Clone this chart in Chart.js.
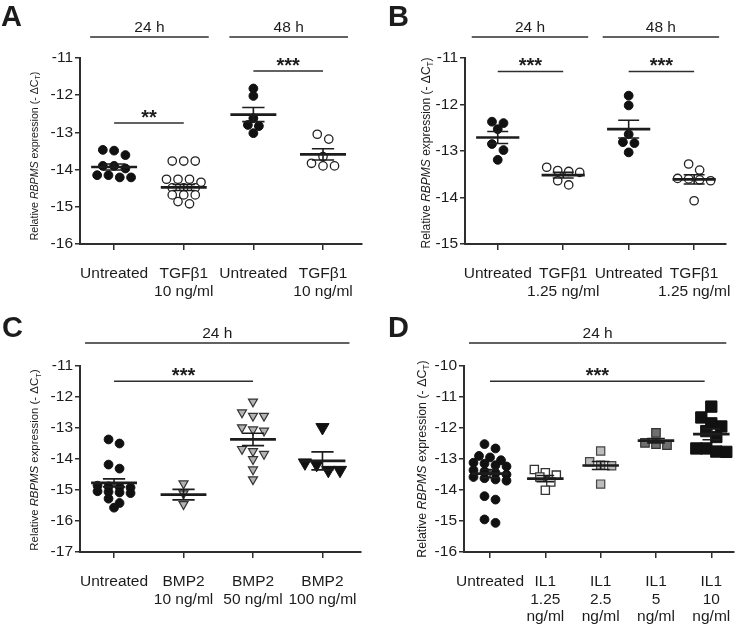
<!DOCTYPE html>
<html>
<head>
<meta charset="utf-8">
<script src="https://cdn.jsdelivr.net/npm/chart.js@4.4.1/dist/chart.umd.min.js"></script>
<style>
  html, body { margin: 0; padding: 0; background: #fff; }
  #fig { position: relative; width: 746px; height: 625px; overflow: hidden; }
  #fig canvas { position: absolute; }
</style>
</head>
<body>
<div id="fig">
  <canvas id="pA" width="373" height="310" style="left:0;top:0"></canvas>
  <canvas id="pB" width="373" height="310" style="left:373px;top:0"></canvas>
  <canvas id="pC" width="373" height="315" style="left:0;top:310px"></canvas>
  <canvas id="pD" width="373" height="315" style="left:373px;top:310px"></canvas>
</div>
<script>
// ---- data (relative RBPMS expression, -dCt) ----

// A: TGFb1 10 ng/ml, 24 h and 48 h
const aLabels = [['Untreated'], ['TGFβ1', '10 ng/ml'], ['Untreated'], ['TGFβ1', '10 ng/ml']];
const aUntreated24 = [-13.47, -13.49, -13.61, -13.90, -13.90, -13.97, -14.15, -14.15, -14.21, -14.21];
const aTgf24 = [-13.77, -13.77, -13.77, -14.26, -14.26, -14.26, -14.34, -14.49, -14.49, -14.49, -14.68, -14.68, -14.68, -14.86, -14.92];
const aUntreated48 = [-11.82, -12.02, -12.62, -12.80, -12.83, -13.02];
const aTgf48 = [-13.05, -13.18, -13.65, -13.83, -13.90, -13.90];
const aMeans = [-13.93, -14.48, -12.52, -13.59];
const aSems = [0.08, 0.08, 0.19, 0.15];

// B: TGFb1 1.25 ng/ml, 24 h and 48 h
const bLabels = [['Untreated'], ['TGFβ1', '1.25 ng/ml'], ['Untreated'], ['TGFβ1', '1.25 ng/ml']];
const bUntreated24 = [-12.37, -12.40, -12.53, -12.85, -12.98, -13.19];
const bTgf24 = [-13.35, -13.42, -13.44, -13.46, -13.64, -13.73];
const bUntreated48 = [-11.81, -12.02, -12.64, -12.81, -12.83, -13.03];
const bTgf48 = [-13.28, -13.41, -13.59, -13.60, -13.62, -13.64, -14.07];
const bMeans = [-12.71, -13.52, -12.53, -13.61];
const bSems = [0.13, 0.06, 0.19, 0.10];

// C: BMP2, 24 h
const cLabels = [['Untreated'], ['BMP2', '10 ng/ml'], ['BMP2', '50 ng/ml'], ['BMP2', '100 ng/ml']];
const cUntreated = [-13.37, -13.50, -14.18, -14.31, -14.86, -14.88, -14.90, -14.92, -15.04, -15.06, -15.08, -15.10, -15.28, -15.42, -15.57];
const cBmp10 = [-14.79, -15.11, -15.46];
const cBmp50 = [-12.15, -12.50, -12.61, -12.61, -12.98, -13.05, -13.09, -13.68, -13.75, -13.84, -14.01, -14.34, -14.66];
const cBmp100 = [-12.98, -14.12, -14.17, -14.36, -14.36];
const cMeans = [-14.77, -15.15, -13.37, -14.06];
const cSems = [0.13, 0.17, 0.20, 0.29];

// D: IL1, 24 h
const dLabels = [['Untreated'], ['IL1', '1.25', 'ng/ml'], ['IL1', '2.5', 'ng/ml'], ['IL1', '5', 'ng/ml'], ['IL1', '10', 'ng/ml']];
const dUntreated = [-12.52, -12.66, -12.90, -12.95, -13.04, -13.12, -13.15, -13.20, -13.24, -13.36, -13.40,
                    -13.45, -13.50, -13.58, -13.62, -13.66, -13.70, -14.20, -14.31, -14.95, -15.06];
const dIl1_125 = [-13.34, -13.44, -13.52, -13.58, -13.74, -14.01];
const dIl1_25 = [-12.74, -13.09, -13.20, -13.22, -13.81];
const dIl1_5 = [-12.16, -12.48, -12.52, -12.55];
const dIl1_10 = [-11.31, -11.66, -11.85, -11.95, -12.10, -12.29, -12.66, -12.66, -12.76, -12.77];
const dMeans = [-13.47, -13.63, -13.21, -12.41, -12.20];
const dSems = [0.13, 0.10, 0.13, 0.07, 0.18];

// ---- styling ----
const FONT = '"Liberation Sans", Arial, Helvetica, sans-serif';
const INK = '#1c1c1c';
const AXIS = '#2e2e2e';

const MARK = {
  dot:     { pointStyle: 'circle', radius: 4.4, bg: '#111', border: '#111', bw: 1 },
  ring:    { pointStyle: 'circle', radius: 4.2, bg: '#fff', border: '#222', bw: 1.3 },
  triGrey: { pointStyle: 'triangle', rotation: 180, radius: 5.2, bg: '#b3b3b3', border: '#333', bw: 1.2 },
  triBlk:  { pointStyle: 'triangle', rotation: 180, radius: 7.6, bg: '#111', border: '#111', bw: 1 },
  sqOpen:  { pointStyle: 'rect', radius: 5.8, bg: '#fff', border: '#333', bw: 1.3 },
  sqLight: { pointStyle: 'rect', radius: 5.8, bg: '#bcbcbc', border: '#444', bw: 1.2 },
  sqDark:  { pointStyle: 'rect', radius: 6.0, bg: '#6f6f6f', border: '#333', bw: 1.2 },
  sqBlk:   { pointStyle: 'rect', radius: 8.0, bg: '#111', border: '#111', bw: 1 },
};

// column scatter: bin points into rows by pixel height, centre each row on its category
function swarm(chart, groups) {
  const xs = chart.scales.x, ys = chart.scales.y;
  const unit = xs.getPixelForValue(1) - xs.getPixelForValue(0);
  chart.data.datasets.forEach((ds, gi) => {
    const { values, gap, bin } = groups[gi];
    const pts = values.map(v => ({ v, py: ys.getPixelForValue(v) })).sort((a, b) => a.py - b.py);
    const rows = [];
    pts.forEach(p => {
      const row = rows[rows.length - 1];
      if (row && p.py - row[0].py < bin) row.push(p); else rows.push([p]);
    });
    ds.data = rows.flatMap(row => row.map((p, j) => ({
      x: gi + (j - (row.length - 1) / 2) * gap / unit,
      y: p.v,
    })));
  });
  chart.update('none');
}

function drawYTitle(ctx, cx, cy, size) {
  const parts = [
    { t: 'Relative ', f: `${size}px ${FONT}` },
    { t: 'RBPMS', f: `italic ${size}px ${FONT}` },
    { t: ' expression (- ΔC', f: `${size}px ${FONT}` },
    { t: 'T', f: `${size * 0.68}px ${FONT}`, dy: size * 0.3 },
    { t: ')', f: `${size}px ${FONT}` },
  ];
  let total = 0;
  parts.forEach(p => { ctx.font = p.f; p.w = ctx.measureText(p.t).width; total += p.w; });
  ctx.save();
  ctx.translate(cx, cy);
  ctx.rotate(-Math.PI / 2);
  ctx.fillStyle = INK;
  ctx.textBaseline = 'middle';
  let x = -total / 2;
  parts.forEach(p => { ctx.font = p.f; ctx.fillText(p.t, x, p.dy || 0); x += p.w; });
  ctx.restore();
}

function decor(p) {
  return {
    id: 'decor',
    afterDatasetsDraw(chart) {
      const { ctx, scales: { x, y } } = chart;
      const unit = x.getPixelForValue(1) - x.getPixelForValue(0);
      ctx.save();
      ctx.strokeStyle = INK;
      p.means.forEach((m, i) => {
        const cx = x.getPixelForValue(i);
        const ym = y.getPixelForValue(m);
        const yt = y.getPixelForValue(m + p.sems[i]);
        const yb = y.getPixelForValue(m - p.sems[i]);
        ctx.lineWidth = 1.6;
        ctx.beginPath();
        ctx.moveTo(cx, yt); ctx.lineTo(cx, yb);
        ctx.moveTo(cx - unit * 0.16, yt); ctx.lineTo(cx + unit * 0.16, yt);
        ctx.moveTo(cx - unit * 0.16, yb); ctx.lineTo(cx + unit * 0.16, yb);
        ctx.stroke();
        ctx.lineWidth = 2.7;
        ctx.beginPath();
        ctx.moveTo(cx - unit * 0.33, ym); ctx.lineTo(cx + unit * 0.33, ym);
        ctx.stroke();
      });
      ctx.restore();
    },
    afterDraw(chart) {
      const { ctx, chartArea: area, scales: { x, y } } = chart;
      ctx.save();
      ctx.strokeStyle = AXIS;
      ctx.fillStyle = INK;
      ctx.lineWidth = 1.5;
      ctx.textAlign = 'center';
      // time headers
      const hy = area.top - p.headerGap;
      p.headers.forEach(h => {
        const x0 = x.getPixelForValue(h.from) - p.headerPad[0];
        const x1 = x.getPixelForValue(h.to) + p.headerPad[1];
        ctx.beginPath(); ctx.moveTo(x0, hy); ctx.lineTo(x1, hy); ctx.stroke();
        ctx.font = `15.5px ${FONT}`;
        ctx.textBaseline = 'alphabetic';
        ctx.fillText(h.label, (x0 + x1) / 2, hy - 5);
      });
      // significance bars
      p.sigs.forEach(s => {
        const sy = y.getPixelForValue(s.y);
        const x0 = x.getPixelForValue(s.from), x1 = x.getPixelForValue(s.to);
        ctx.beginPath(); ctx.moveTo(x0, sy); ctx.lineTo(x1, sy); ctx.stroke();
        ctx.font = `bold 20px ${FONT}`;
        ctx.textBaseline = 'alphabetic';
        ctx.fillText(s.text, (x0 + x1) / 2, sy + 1);
      });
      // panel letter
      ctx.textAlign = 'left';
      ctx.font = `bold 29px ${FONT}`;
      ctx.fillText(p.letter, p.letterX, p.letterY);
      ctx.restore();
      drawYTitle(ctx, area.left - p.titleGap, (area.top + area.bottom) / 2 + p.titleDy, p.titleSize);
    },
  };
}

function makePanel(p) {
  const canvas = document.getElementById(p.id);
  const W = canvas.width, H = canvas.height;
  const datasets = p.groups.map((g, i) => {
    const m = MARK[g.mark];
    return {
      data: g.values.map(v => ({ x: i, y: v })),
      pointStyle: m.pointStyle,
      pointRadius: m.radius,
      pointRotation: m.rotation || 0,
      pointBackgroundColor: m.bg,
      pointBorderColor: m.border,
      pointBorderWidth: m.bw,
      showLine: false,
      clip: false,
    };
  });
  const tickFont = { family: FONT, size: 15.5, lineHeight: 1.14 };
  const chart = new Chart(canvas, {
    type: 'scatter',
    data: { datasets },
    options: {
      responsive: false,
      animation: false,
      events: [],
      layout: { padding: { left: 0, top: p.area.t, right: W - p.area.r, bottom: 0 } },
      plugins: { legend: { display: false }, tooltip: { enabled: false } },
      scales: {
        x: {
          type: 'linear', min: p.xMin, max: p.xMax,
          afterBuildTicks: s => { s.ticks = p.labels.map((_, i) => ({ value: i })); },
          afterFit: s => { s.height = H - p.area.b; },
          ticks: { callback: v => p.labels[v], font: tickFont, color: INK, padding: 15, autoSkip: false, maxRotation: 0 },
          grid: { drawOnChartArea: false, drawTicks: true, tickLength: 6, color: AXIS, lineWidth: 1.5 },
          border: { display: true, color: AXIS, width: 2 },
        },
        y: {
          type: 'linear', min: p.yMin, max: p.yMax,
          afterFit: s => { s.width = p.area.l; },
          ticks: { stepSize: 1, callback: v => String(v), font: tickFont, color: INK, padding: 2 },
          grid: { drawOnChartArea: false, drawTicks: true, tickLength: 5, color: AXIS, lineWidth: 1.5 },
          border: { display: true, color: AXIS, width: 2 },
        },
      },
    },
    plugins: [decor(p)],
  });
  swarm(chart, p.groups);
  return chart;
}

makePanel({
  id: 'pA', letter: 'A', letterX: 1, letterY: 26,
  area: { l: 80, r: 362, t: 58, b: 244 }, xMin: -0.49, xMax: 3.56, yMin: -16, yMax: -11,
  labels: aLabels,
  groups: [
    { values: aUntreated24, mark: 'dot', gap: 11.3, bin: 6.5 },
    { values: aTgf24, mark: 'ring', gap: 11.5, bin: 6.5 },
    { values: aUntreated48, mark: 'dot', gap: 11, bin: 6.5 },
    { values: aTgf48, mark: 'ring', gap: 11.5, bin: 6.5 },
  ],
  means: aMeans, sems: aSems,
  headers: [{ label: '24 h', from: 0, to: 1 }, { label: '48 h', from: 2, to: 3 }],
  headerGap: 21, headerPad: [24, 25],
  sigs: [{ from: 0, to: 1, y: -12.75, text: '**' }, { from: 2, to: 3, y: -11.35, text: '***' }],
  titleGap: 45, titleDy: 5, titleSize: 10.6,
});

makePanel({
  id: 'pB', letter: 'B', letterX: 15, letterY: 26,
  area: { l: 92, r: 370, t: 58, b: 244 }, xMin: -0.50, xMax: 3.49, yMin: -15, yMax: -11,
  labels: bLabels,
  groups: [
    { values: bUntreated24, mark: 'dot', gap: 11.5, bin: 6.5 },
    { values: bTgf24, mark: 'ring', gap: 11, bin: 6.5 },
    { values: bUntreated48, mark: 'dot', gap: 11.5, bin: 6.5 },
    { values: bTgf48, mark: 'ring', gap: 11, bin: 6.5 },
  ],
  means: bMeans, sems: bSems,
  headers: [{ label: '24 h', from: 0, to: 1 }, { label: '48 h', from: 2, to: 3 }],
  headerGap: 21, headerPad: [26, 25],
  sigs: [{ from: 0, to: 1, y: -11.29, text: '***' }, { from: 2, to: 3, y: -11.29, text: '***' }],
  titleGap: 38, titleDy: 2, titleSize: 12,
});

makePanel({
  id: 'pC', letter: 'C', letterX: 2, letterY: 27,
  area: { l: 80, r: 362, t: 56, b: 242 }, xMin: -0.49, xMax: 3.55, yMin: -17, yMax: -11,
  labels: cLabels,
  groups: [
    { values: cUntreated, mark: 'dot', gap: 11, bin: 5 },
    { values: cBmp10, mark: 'triGrey', gap: 11, bin: 6.5 },
    { values: cBmp50, mark: 'triGrey', gap: 11, bin: 6.5 },
    { values: cBmp100, mark: 'triBlk', gap: 11.7, bin: 10 },
  ],
  means: cMeans, sems: cSems,
  headers: [{ label: '24 h', from: 0, to: 3 }],
  headerGap: 23, headerPad: [29, 27],
  sigs: [{ from: 0, to: 2, y: -11.49, text: '***' }],
  titleGap: 45, titleDy: 1, titleSize: 11.4,
});

makePanel({
  id: 'pD', letter: 'D', letterX: 15, letterY: 27,
  area: { l: 91, r: 370, t: 56, b: 242 }, xMin: -0.47, xMax: 4.40, yMin: -16, yMax: -10,
  labels: dLabels,
  groups: [
    { values: dUntreated, mark: 'dot', gap: 11, bin: 6.5 },
    { values: dIl1_125, mark: 'sqOpen', gap: 11, bin: 6.5 },
    { values: dIl1_25, mark: 'sqLight', gap: 11, bin: 6.5 },
    { values: dIl1_5, mark: 'sqDark', gap: 11, bin: 6.5 },
    { values: dIl1_10, mark: 'sqBlk', gap: 10, bin: 9 },
  ],
  means: dMeans, sems: dSems,
  headers: [{ label: '24 h', from: 0, to: 4 }],
  headerGap: 23, headerPad: [21, 15],
  sigs: [{ from: 0, to: 3.88, y: -10.49, text: '***' }],
  titleGap: 41, titleDy: 0, titleSize: 12.4,
});
</script>
</body>
</html>
